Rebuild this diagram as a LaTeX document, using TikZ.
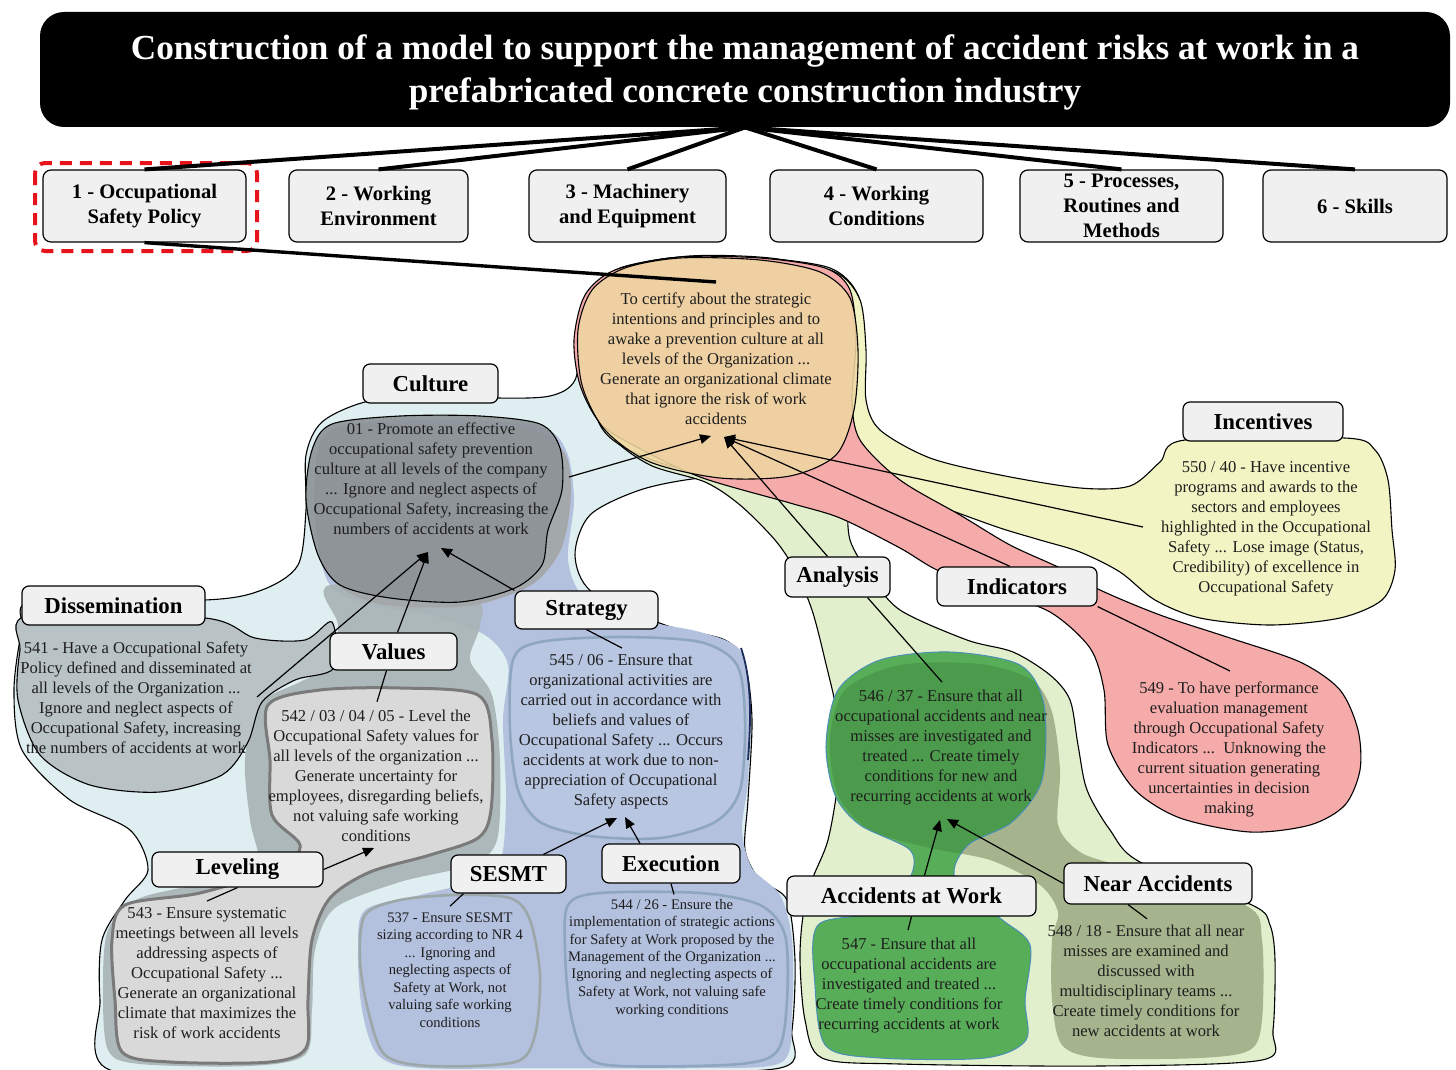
\documentclass[tikz,border=0pt]{standalone}
\usepackage{fontspec}
\setmainfont{Liberation Serif}
\usetikzlibrary{arrows.meta,calc}

\definecolor{boxgray}{HTML}{F0F0F0}
\definecolor{textc}{HTML}{1E1E1E}
\definecolor{lblue}{HTML}{DFEEF0}
\definecolor{lgreen}{HTML}{E1EFCD}
\definecolor{lyellow}{HTML}{F2F5C3}
\definecolor{lpink}{HTML}{F6ABAB}
\definecolor{beige}{HTML}{EFD6A1}
\definecolor{periw}{HTML}{B3C1DF}
\definecolor{periwedge}{HTML}{8EA7BE}
\definecolor{slate}{HTML}{A8B3B5}
\definecolor{slatelight}{HTML}{B9C2C4}
\definecolor{culgray}{HTML}{8C9296}
\definecolor{valgray}{HTML}{D9D9D9}
\definecolor{valedge}{HTML}{7A7A7A}
\definecolor{sesedge}{HTML}{9CA7A7}
\definecolor{olive}{HTML}{A5B48D}
\definecolor{dgreen}{HTML}{58AE58}
\definecolor{dgreenover}{HTML}{4C9A4C}
\definecolor{dgedge}{HTML}{4A8FB5}
\definecolor{navyedge}{HTML}{1C2B5C}
\definecolor{dashred}{HTML}{E8141B}

% region outlines (pixel units, y pointing down)
\def\pLB{plot[smooth cycle] coordinates{(583,330) (596,288) (630,266) (690,257) (770,259) (828,272) (856,300) (862,350) (856,410) (836,452) (780,474) (700,478) (640,490) (590,515) (575,555) (592,592) (665,625) (725,640) (745,665) (752,720) (748,800) (745,850) (760,880) (787,900) (795,960) (792,1030) (780,1068) (600,1072) (300,1072) (110,1070) (100,1000) (102,940) (125,900) (148,870) (130,830) (70,800) (22,750) (14,690) (22,630) (35,600) (205,600) (262,590) (298,565) (306,510) (306,455) (322,422) (365,402) (430,394) (498,398) (550,396) (575,380)}}
\def\pLG{plot[smooth cycle] coordinates{(590,300) (615,272) (670,258) (760,258) (830,268) (858,295) (865,345) (862,400) (852,450) (848,500) (850,540) (870,575) (900,610) (967,640) (1013,652) (1050,675) (1070,700) (1078,745) (1087,790) (1110,830) (1140,862) (1252,905) (1270,925) (1275,960) (1273,1030) (1262,1060) (1100,1066) (900,1064) (822,1058) (805,1020) (800,960) (803,916) (812,880) (828,840) (838,780) (838,720) (825,660) (812,610) (795,570) (775,540) (740,505) (705,482) (650,465) (610,435) (590,390) (585,340)}}
\def\pYL{plot[smooth cycle] coordinates{(580,340) (588,295) (620,268) (690,256) (770,258) (835,272) (860,300) (866,350) (866,400) (880,430) (930,458) (1000,475) (1080,488) (1130,486) (1160,462) (1185,440) (1345,438) (1375,450) (1388,480) (1392,530) (1395,570) (1382,600) (1340,618) (1270,625) (1200,618) (1155,600) (1120,572) (1080,552) (1040,540) (1000,528) (950,510) (890,488) (840,470) (780,472) (700,472) (640,455) (600,425)}}
\def\pPK{plot[smooth cycle] coordinates{(574,340) (585,295) (615,270) (680,257) (760,258) (825,268) (850,290) (856,340) (852,400) (860,440) (900,480) (960,515) (1010,545) (1060,568) (1100,590) (1160,615) (1230,638) (1300,662) (1340,690) (1358,730) (1360,770) (1345,805) (1310,825) (1250,832) (1180,818) (1135,790) (1108,745) (1104,690) (1090,648) (1050,612) (990,590) (937,570) (900,548) (840,518) (790,503) (700,477) (633,445) (600,423) (580,385)}}
\def\pCB{plot[smooth cycle] coordinates{(578,330) (592,290) (625,268) (680,258) (760,260) (820,272) (850,298) (858,350) (854,410) (836,455) (790,476) (720,478) (650,462) (605,430) (582,385)}}
\def\pBL{plot[smooth cycle] coordinates{(318,450) (345,425) (440,420) (538,426) (566,450) (574,500) (568,560) (585,598) (640,620) (700,632) (740,650) (750,700) (748,780) (742,830) (752,868) (780,895) (792,940) (792,1010) (782,1062) (700,1068) (550,1068) (420,1068) (378,1055) (362,1010) (358,950) (365,910) (420,895) (470,882) (500,862) (506,800) (503,720) (508,665) (485,635) (430,615) (370,605) (330,585) (316,530)}}
\def\pVS{plot[smooth cycle] coordinates{(330,585) (470,598) (480,625) (470,660) (492,695) (500,760) (497,840) (470,865) (400,882) (335,908) (315,950) (312,1010) (305,1055) (250,1066) (140,1064) (108,1050) (103,990) (108,930) (140,898) (230,878) (258,862) (250,820) (245,760) (258,705) (300,682) (332,665) (338,625)}}
\def\pDS{plot[smooth cycle] coordinates{(30,615) (205,618) (255,638) (305,640) (332,622) (334,668) (295,680) (262,702) (248,742) (222,775) (160,792) (90,785) (40,755) (18,700) (20,650)}}
\def\pCU{plot[smooth cycle] coordinates{(312,450) (332,424) (400,416) (480,416) (540,424) (560,448) (562,490) (548,530) (542,565) (515,588) (460,602) (390,598) (340,585) (318,555) (306,500)}}
\def\pCUb{plot[smooth cycle] coordinates{(330,432) (420,425) (530,430) (565,455) (570,500) (560,550) (530,585) (470,605) (390,605) (345,590) (322,560) (315,490)}}
\def\pVL{plot[smooth cycle] coordinates{(268,705) (320,690) (400,688) (478,695) (492,740) (491,810) (478,838) (430,855) (370,872) (330,898) (312,940) (308,1000) (306,1048) (270,1062) (170,1062) (122,1052) (115,1000) (112,940) (125,905) (200,893) (280,868) (300,845) (272,815) (270,760)}}
\def\pST{plot[smooth cycle] coordinates{(513,660) (540,642) (620,637) (700,642) (737,665) (745,720) (740,790) (715,822) (660,838) (590,836) (540,822) (518,790) (510,730)}}
\def\pSE{plot[smooth cycle] coordinates{(365,915) (400,900) (455,895) (510,898) (530,920) (540,975) (535,1035) (515,1062) (430,1066) (385,1055) (368,1010) (360,960)}}
\def\pEX{plot[smooth cycle] coordinates{(568,905) (600,893) (700,893) (760,905) (785,935) (787,1000) (778,1050) (740,1064) (620,1066) (585,1055) (570,1010) (565,950)}}
\def\pOL{plot[smooth cycle] coordinates{(830,740) (845,690) (900,665) (980,664) (1032,680) (1052,712) (1060,770) (1058,825) (1080,852) (1120,866) (1245,905) (1262,940) (1262,1020) (1250,1050) (1200,1058) (1100,1058) (1062,1045) (1052,1000) (1052,940) (1058,912) (1040,885) (990,860) (930,848) (870,830) (838,795)}}
\def\pDG{plot[smooth cycle] coordinates{(826,745) (838,690) (880,660) (950,652) (1020,665) (1044,705) (1042,780) (1012,822) (968,845) (955,878) (1000,918) (1030,945) (1025,1000) (1026,1040) (985,1058) (880,1058) (826,1046) (815,985) (818,925) (880,912) (910,878) (910,850) (860,825) (835,795)}}

\tikzset{
  region/.style={draw=black, line width=0.55pt},
  catbox/.style={draw=black, line width=0.6pt, fill=boxgray, rounded corners=4pt,
    align=center, inner sep=0pt, text=black,
    font=\bfseries\fontsize{10.3}{12.5}\selectfont},
  grpbox/.style={draw=black, line width=0.6pt, fill=boxgray, rounded corners=3.5pt,
    inner sep=0pt, text=black, font=\bfseries\fontsize{11.4}{13}\selectfont},
  txt/.style={align=center, inner sep=0pt, text=textc,
    font=\fontsize{8.3}{10}\selectfont},
  stxt/.style={align=center, inner sep=0pt, text=textc,
    font=\fontsize{7.3}{8.75}\selectfont},
  trunk/.style={draw=black, line width=2pt},
  link/.style={draw=black, line width=0.6pt},
  arr/.style={draw=black, line width=0.6pt, -{Triangle[length=5.5pt,width=4.8pt]}},
}

\begin{document}
\begin{tikzpicture}[x=0.5pt,y=-0.5pt]
\useasboundingbox (0,0) rectangle (1456,1070);

% ---- large coloured regions ----
\path[region, fill=lblue] \pLB;
\path[region, fill=lgreen] \pLG;
\path[region, fill=lyellow] \pYL;
\path[region, fill=lpink] \pPK;
\path[region, fill=beige, fill opacity=0.88] \pCB;

% ---- left group ----
\path[fill=periw] \pBL;
\draw[navyedge, line width=0.9pt] (741,648) .. controls (752,680) and (751,720) .. (748,760);
\path[fill=slate, opacity=0.9] \pVS;
\path[region, fill=slatelight] \pDS;
\path[fill=culgray!80!white, draw=gray!70, line width=0.6pt] \pCUb;
\path[region, fill=culgray, fill opacity=0.9] \pCU;
\path[fill=valgray, draw=valedge, line width=1.5pt] \pVL;
\path[fill=periw!85!white, fill opacity=0.6, draw=periwedge, line width=1.3pt] \pST;
\path[draw=sesedge, line width=1.3pt] \pSE;
\path[draw=periwedge, line width=1.3pt] \pEX;

% ---- analysis group ----
\path[fill=olive] \pOL;
\path[fill=dgreen] \pDG;
\begin{scope}
  \clip \pDG;
  \path[fill=dgreenover] \pOL;
\end{scope}
\path[draw=dgedge, line width=0.5pt] \pDG;

% ---- title and first level ----
\node[fill=black, rounded corners=12pt, minimum width=705pt, minimum height=57.5pt,
  inner sep=0pt] (title) at (745,69.5) {};
\node[align=center, inner sep=0pt, text=white,
  font=\bfseries\fontsize{17.6}{21.5}\selectfont] (titletext) at (745,72)
  {Construction of a model to support the management of accident risks at work in a\\
   prefabricated concrete construction industry};

\node[catbox, minimum width=101.5pt, minimum height=36pt] (c1) at (144.5,206) {1 - Occupational\\Safety Policy};
\node[catbox, minimum width=89.5pt, minimum height=36pt] (c2) at (378.5,206) {2 - Working\\Environment};
\node[catbox, minimum width=98.5pt, minimum height=36pt] (c3) at (627.5,206) {3 - Machinery\\and Equipment};
\node[catbox, minimum width=106.5pt, minimum height=36pt] (c4) at (876.5,206) {4 - Working\\Conditions};
\node[catbox, minimum width=101.5pt, minimum height=36pt] (c5) at (1121.5,206) {5 - Processes,\\Routines and\\Methods};
\node[catbox, minimum width=92pt, minimum height=36pt] (c6) at (1355,206) {6 - Skills};
\draw[dashred, line width=2pt, dash pattern=on 6pt off 4pt, rounded corners=5pt]
  (35,163) rectangle (257,251);

\foreach \c in {c1,c2,c3,c4,c5,c6} \draw[trunk] (title.south) -- (\c.north);

% ---- central statement ----
\node[txt] (tCenter) at (716,359) {To certify about the strategic\\intentions and principles and to\\awake a prevention culture at all\\levels of the Organization ...\\Generate an organizational climate\\that ignore the risk of work\\accidents};
\coordinate (hubT) at (716,282);
\coordinate (hubL) at (711,436);
\coordinate (hubR) at (724,437);
\draw[trunk, line width=1.7pt] (c1.south) -- (hubT);

% ---- statements ----
\node[txt] (tCulture) at (431,479) {01 - Promote an effective\\occupational safety prevention\\culture at all levels of the company\\... Ignore and neglect aspects of\\Occupational Safety, increasing the\\numbers of accidents at work};
\node[txt] (tDissem) at (136,698) {541 - Have a Occupational Safety\\Policy defined and disseminated at\\all levels of the Organization ...\\Ignore and neglect aspects of\\Occupational Safety, increasing\\the numbers of accidents at work};
\node[txt] (tValues) at (376,776) {542 / 03 / 04 / 05 - Level the\\Occupational Safety values for\\all levels of the organization ...\\Generate uncertainty for\\employees, disregarding beliefs,\\not valuing safe working\\conditions};
\node[txt] (tLevel) at (207,973) {543 - Ensure systematic\\meetings between all levels\\addressing aspects of\\Occupational Safety ...\\Generate an organizational\\climate that maximizes the\\risk of work accidents};
\node[txt] (tStrat) at (621,732) {545 / 06 - Ensure that\\organizational activities are\\carried out in accordance with\\beliefs and values of\\Occupational Safety ... Occurs\\accidents at work due to non-\\appreciation of Occupational\\Safety aspects};
\node[stxt] (tSesmt) at (450,970) {537 - Ensure SESMT\\sizing according to NR 4\\... Ignoring and\\neglecting aspects of\\Safety at Work, not\\valuing safe working\\conditions};
\node[stxt] (tExec) at (672,958) {544 / 26 - Ensure the\\implementation of strategic actions\\for Safety at Work proposed by the\\Management of the Organization ...\\Ignoring and neglecting aspects of\\Safety at Work, not valuing safe\\working conditions};
\node[txt] (tAnalysis) at (941,748) {546 / 37 - Ensure that all\\occupational accidents and near\\misses are investigated and\\treated ... Create timely\\conditions for new and\\recurring accidents at work};
\node[txt] (tAcc) at (909,986) {547 - Ensure that all\\occupational accidents are\\investigated and treated ...\\Create timely conditions for\\recurring accidents at work};
\node[txt] (tNear) at (1146,981) {548 / 18 - Ensure that all near\\misses are examined and\\discussed with\\multidisciplinary teams ...\\Create timely conditions for\\new accidents at work};
\node[txt] (tInd) at (1229,749) {549 - To have performance\\evaluation management\\through Occupational Safety\\Indicators ...\ \ Unknowing the\\current situation generating\\uncertainties in decision\\making};
\node[txt] (tInc) at (1266,529) {550 / 40 - Have incentive\\programs and awards to the\\sectors and employees\\highlighted in the Occupational\\Safety ... Lose image (Status,\\Credibility) of excellence in\\Occupational Safety};

% ---- group labels ----
\node[grpbox, minimum width=67.5pt, minimum height=19.5pt] (culture) at (430.5,383.5) {Culture};
\node[grpbox, minimum width=91.5pt, minimum height=19.5pt] (dissem) at (113.5,605.5) {Dissemination};
\node[grpbox, minimum width=63.5pt, minimum height=18.5pt] (values) at (393.5,651.5) {Values};
\node[grpbox, minimum width=71.5pt, minimum height=19pt] (strategy) at (586.5,610) {Strategy};
\node[grpbox, minimum width=85.5pt, minimum height=17.5pt] (leveling) at (237.5,869.5) {Leveling};
\node[grpbox, minimum width=57.5pt, minimum height=19pt] (sesmt) at (508.5,874) {SESMT};
\node[grpbox, minimum width=69pt, minimum height=19.5pt] (execution) at (671,863.5) {Execution};
\node[grpbox, minimum width=52.5pt, minimum height=20pt] (analysis) at (837.5,577) {Analysis};
\node[grpbox, minimum width=80pt, minimum height=19.5pt] (indicators) at (1017,586.5) {Indicators};
\node[grpbox, minimum width=80pt, minimum height=19.5pt] (incentives) at (1263,421.5) {Incentives};
\node[grpbox, minimum width=124.5pt, minimum height=20pt] (accwork) at (911.5,896) {Accidents at Work};
\node[grpbox, minimum width=94pt, minimum height=20.5pt] (nearacc) at (1158,883.5) {Near Accidents};

% ---- arrow targets and free ends ----
\coordinate (cultOut) at (569,477);
\coordinate (incOut) at (1143,527);
\coordinate (disOut) at (257,697);
\coordinate (cultHeadA) at (428,552);
\coordinate (cultHeadB) at (441,548);
\coordinate (valHead) at (374,848);
\coordinate (stratHeadA) at (617,818);
\coordinate (stratHeadB) at (625,817);
\coordinate (anaHeadA) at (940,820);
\coordinate (anaHeadB) at (947,819);

% ---- connectors ----
\draw[arr] (cultOut) -- (hubL);
\draw[arr] ($(analysis.north)+(-10,0)$) -- (hubR);
\draw[arr] ($(indicators.north)+(-7,0)$) -- (hubR);
\draw[arr] (incOut) -- (hubR);

\draw[arr] (disOut) -- (cultHeadA);
\draw[arr] ($(values.north)+(4,0)$) -- (cultHeadA);
\draw[arr] (strategy.north west) -- (cultHeadB);
\draw[arr] (leveling.east) -- (valHead);
\draw[arr] ($(sesmt.north)+(35,0)$) -- (stratHeadA);
\draw[arr] ($(execution.north)+(-31,0)$) -- (stratHeadB);
\draw[arr] ($(accwork.north)+(13,0)$) -- (anaHeadA);
\draw[arr] (nearacc.west) -- (anaHeadB);

\draw[link] ($(values.south)+(-7,0)$) -- ($(tValues.north)+(1,-8)$);
\draw[link] (leveling.south) -- ($(tLevel.north)+(0,-6)$);
\draw[link] ($(sesmt.south)+(-45,0)$) -- ($(tSesmt.north)+(0,-6)$);
\draw[link] (execution.south) -- ($(tExec.north)+(2,-4)$);
\draw[link] (strategy.south) -- ($(tStrat.north)+(1,-6)$);
\draw[link] ($(analysis.south)+(30,0)$) -- ($(tAnalysis.north)+(1,-8)$);
\draw[link] (accwork.south) -- ($(tAcc.north)+(-1,-8)$);
\draw[link] ($(nearacc.south)+(-30,0)$) -- ($(tNear.north)+(1,-6)$);
\draw[link] (indicators.south east) -- ($(tInd.north)+(1,-10)$);
\end{tikzpicture}
\end{document}
